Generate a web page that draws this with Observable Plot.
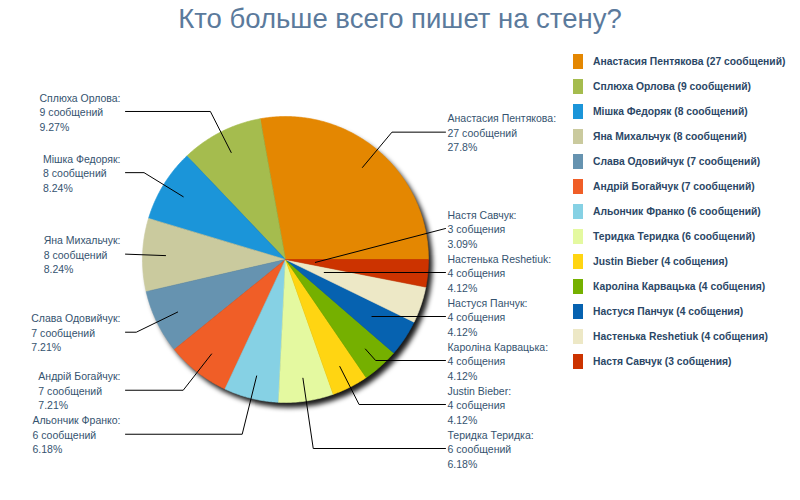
<!DOCTYPE html>
<html><head><meta charset="utf-8">
<script src="https://cdn.jsdelivr.net/npm/d3@7"></script>
<script src="https://cdn.jsdelivr.net/npm/@observablehq/plot@0.6"></script>
<style>
body{margin:0;background:#fff;width:800px;height:500px;position:relative;overflow:hidden;font-family:'Liberation Sans',sans-serif}
#title{position:absolute;top:3px;left:0;width:800px;text-align:center;font:27.5px/32px 'Liberation Sans',sans-serif;color:#5B7A9C}
#chart{position:absolute;left:0;top:40px}
#legend{position:absolute;left:573px;top:54px}
.item{height:25px;display:flex;align-items:flex-start}
.sw{width:10px;height:15px;margin-right:10px;flex:none}
.lt{font:bold 10.3px/15px 'Liberation Sans',sans-serif;color:#2B4766;white-space:nowrap}
</style></head><body>
<div id="title">Кто больше всего пишет на стену?</div>
<div id="chart"></div>
<div id="legend"></div>
<script>
const names = ["Анастасия Пентякова","Сплюха Орлова","Мішка Федоряк","Яна Михальчук","Слава Одовийчук","Андрій Богайчук","Альончик Франко","Теридка Теридка","Justin Bieber","Кароліна Карвацька","Настуся Панчук","Настенька Reshetiuk","Настя Савчук"];
const counts = [27,9,8,8,7,7,6,6,4,4,4,4,3];
const units = ["сообщений","сообщений","сообщений","сообщений","сообщений","сообщений","сообщений","сообщений","собщения","собщения","собщения","собщения","собщения"];
const pcts = ["27.8%","9.27%","8.24%","8.24%","7.21%","7.21%","6.18%","6.18%","4.12%","4.12%","4.12%","4.12%","3.09%"];
const colors = ["#E48701","#A5BC4E","#1B95D9","#CACA9E","#6693B0","#F05E27","#86D1E4","#E4F9A0","#FFD512","#75B000","#0662B0","#EDE8C6","#CC3300"];

// layout (pixels)
const W = 560, H = 460, CX = 285, CY = 219, R = 143;
const R_IN = 120, R_NAT = 166, LEAD_X = 160, GAP = 44, BOTTOM = 189, TOP = -170;
const FONT_SIZE = 10.5;
const FONT = FONT_SIZE + "px 'Liberation Sans'";

const total = d3.sum(counts);
// slices: start at east, counterclockwise
let acc = 0;
const slices = names.map((n, i) => {
  const a0 = acc / total * 2 * Math.PI;
  acc += counts[i];
  const a1 = acc / total * 2 * Math.PI;
  return {name: n, count: counts[i], unit: units[i], pct: pcts[i], a0, a1, mid: (a0 + a1) / 2};
});

const arcPts = [];
for (const s of slices) {
  const steps = Math.max(2, Math.ceil((s.a1 - s.a0) / (Math.PI / 360)));
  arcPts.push({name: s.name, x: 0, y: 0});
  for (let k = 0; k <= steps; k++) {
    const a = s.a0 + (s.a1 - s.a0) * k / steps;
    arcPts.push({name: s.name, x: Math.cos(a), y: Math.sin(a)});
  }
  arcPts.push({name: s.name, x: 0, y: 0});
}

// label layout (screen px, relative to center, y down)
for (const s of slices) {
  s.side = Math.cos(s.mid) >= 0 ? 1 : -1;
  s.ly = -R_NAT * Math.sin(s.mid);
}
for (const side of [1, -1]) {
  const g = slices.filter(s => s.side === side).sort((a, b) => a.ly - b.ly);
  for (let i = 0; i < g.length; i++) {
    if (i === 0) g[i].ly = Math.max(g[i].ly, TOP);
    else g[i].ly = Math.max(g[i].ly, g[i - 1].ly + GAP);
  }
  for (let i = g.length - 1; i >= 0; i--) {
    if (i === g.length - 1) g[i].ly = Math.min(g[i].ly, BOTTOM);
    else g[i].ly = Math.min(g[i].ly, g[i + 1].ly - GAP);
  }
}
const ctx = document.createElement("canvas").getContext("2d");
ctx.font = FONT;
const leadPts = [];
const labels = [];
for (const s of slices) {
  const c = Math.cos(s.mid), sy = -Math.sin(s.mid);
  const L = s.ly, endX = s.side * LEAD_X;
  const rInt = Math.abs(sy) > 1e-6 ? L / sy : -1;
  let pts;
  if (rInt <= 30) {
    pts = [[c * 30, sy * 30], [endX, L]];
  } else if (rInt <= R_IN) {
    pts = [[c * rInt, L], [endX, L]];
  } else if (Math.abs(c * rInt) >= LEAD_X) {
    pts = [[c * R_IN, sy * R_IN], [endX, L]];
  } else {
    pts = [[c * R_IN, sy * R_IN], [c * rInt, L], [endX, L]];
  }
  for (const [px, py] of pts) leadPts.push({name: s.name, x: px / R, y: -py / R});
  const lines = [`${s.name}:`, `${s.count} ${s.unit}`, s.pct];
  const w = d3.max(lines, t => ctx.measureText(t).width);
  const tx = s.side > 0 ? endX + 2 : endX - 5 - w;
  labels.push({text: lines.join("\n"), x: tx / R, y: -L / R});
}

const chart = Plot.plot({
  width: W, height: H, margin: 0,
  x: {domain: [-CX / R, (W - CX) / R], range: [0, W], axis: null},
  y: {domain: [-(H - CY) / R, CY / R], range: [H, 0], axis: null},
  color: {domain: names, range: colors},
  marks: [
    Plot.dot([{x: 0, y: 0}], {x: "x", y: "y", r: R, fill: "#000", fillOpacity: 0.9, stroke: "none"}),
    Plot.line(arcPts, {x: "x", y: "y", z: "name", fill: "name", stroke: "name", strokeWidth: 0.6, curve: "linear"}),
    Plot.line(leadPts, {x: "x", y: "y", z: "name", stroke: "#000", strokeWidth: 1}),
    Plot.text(labels, {x: "x", y: "y", text: "text", textAnchor: "start", lineAnchor: "middle", lineHeight: 1.38, fontSize: FONT_SIZE, fontFamily: "Liberation Sans", fill: "#35536F"})
  ]
});
// shadow filter
const ns = "http://www.w3.org/2000/svg";
const defs = document.createElementNS(ns, "defs");
defs.innerHTML = '<filter id="pieShadow" x="-20%" y="-20%" width="140%" height="140%"><feOffset dx="4" dy="5"/><feGaussianBlur stdDeviation="2.5"/></filter>';
chart.insertBefore(defs, chart.firstChild);
const circ = chart.querySelector("circle");
if (circ) circ.setAttribute("filter", "url(#pieShadow)");
document.getElementById("chart").appendChild(chart);

// legend
const leg = d3.select("#legend");
slices.forEach((s, i) => {
  const it = leg.append("div").attr("class", "item");
  it.append("div").attr("class", "sw").style("background", colors[i]);
  it.append("div").attr("class", "lt").text(`${s.name} (${s.count} ${s.unit})`);
});
</script>
</body></html>
